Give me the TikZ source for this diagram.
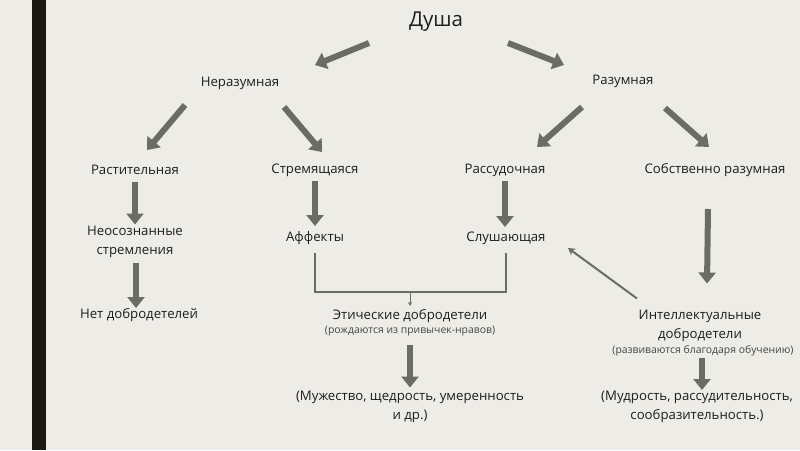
\documentclass[tikz,border=0pt]{standalone}
\usepackage{fontspec}
\setmainfont{Open Sans}
\usetikzlibrary{arrows.meta,calc}
\definecolor{bgc}{RGB}{238,236,230}
\definecolor{barc}{RGB}{26,26,18}
\definecolor{arrc}{RGB}{108,108,103}
\definecolor{txtc}{RGB}{30,30,28}
\definecolor{notec}{RGB}{70,70,66}
\tikzset{
  lbl/.style={inner sep=0pt, text=txtc, font=\fontsize{13.2}{19}\selectfont, align=center},
  note/.style={inner sep=0pt, text=notec, font=\fontsize{10.4}{12}\selectfont, align=center},
  bigarrow/.style={draw=arrc, line width=6pt, -{Triangle[width=17pt,length=11pt]}},
  thinline/.style={draw=arrc, line width=2pt},
  thinarrow/.style={draw=arrc, line width=2pt, -{Stealth[width=8pt,length=7pt]}},
  tinyarrow/.style={draw=arrc, line width=1pt, -{Stealth[width=4pt,length=4pt]}}
}
\begin{document}
\begin{tikzpicture}[x=1pt,y=-1pt]
\useasboundingbox (0,0) rectangle (800,450);
\fill[bgc] (0,0) rectangle (800,450);
\fill[barc] (32,0) rectangle (46,450);

\node[lbl, font=\fontsize{20.5}{24}\selectfont] (dusha) at (436,22) {Душа};
\node[lbl] (neraz) at (240,83) {Неразумная};
\node[lbl] (raz) at (623,81) {Разумная};
\node[lbl] (rast) at (135,170) {Растительная};
\node[lbl] (strem) at (315,170) {Стремящаяся};
\node[lbl] (rass) at (505,170) {Рассудочная};
\node[lbl] (sobst) at (715,170) {Собственно разумная};
\node[lbl] (neos) at (135,241.5) {Неосознанные\\стремления};
\node[lbl] (aff) at (315,238) {Аффекты};
\node[lbl] (slush) at (506,238) {Слушающая};
\node[lbl] (net) at (139,315) {Нет добродетелей};
\node[lbl] (eth) at (410,316) {Этические добродетели};
\node[note] (ethnote) at (410,331) {(рождаются из привычек-нравов)};
\node[lbl] (muzh) at (410,406.5) {(Мужество, щедрость, умеренность\\и др.)};
\node[lbl] (intel) at (700,325.5) {Интеллектуальные\\добродетели};
\node[note] (intelnote) at (703,351) {(развиваются благодаря обучению)};
\node[lbl] (mudr) at (697,407) {(Мудрость, рассудительность,\\сообразительность.)};

% diagonal arrows
\draw[bigarrow] ($(dusha)+(-67,21)$) -- ($(neraz)+(75,-18)$);
\draw[bigarrow] ($(dusha)+(72,21)$) -- ($(raz)+(-59,-16)$);
\draw[bigarrow] ($(neraz)+(-55,22)$) -- ($(rast)+(12,-20)$);
\draw[bigarrow] ($(neraz)+(44,24)$) -- ($(strem)+(7,-18)$);
\draw[bigarrow] ($(raz)+(-41,26)$) -- ($(rass)+(32,-23)$);
\draw[bigarrow] ($(raz)+(42,27)$) -- ($(sobst)+(-6,-23)$);

% vertical arrows
\draw[bigarrow] ($(rast)+(0,12)$) -- ($(neos)+(0,-17)$);
\draw[bigarrow] ($(strem)+(0,11)$) -- ($(aff)+(0,-12)$);
\draw[bigarrow] ($(rass)+(0,11)$) -- ($(slush)+(-1,-11)$);
\draw[bigarrow] ($(neos)+(1,21)$) -- ($(net)+(-3,-7)$);
\draw[bigarrow] ($(sobst)+(-7,39)$) -- ($(intel)+(7,-42)$);
\draw[bigarrow] ($(ethnote)+(0,14)$) -- ($(muzh)+(0,-19)$);
\draw[bigarrow] ($(intelnote)+(-1,7)$) -- ($(mudr)+(5,-17)$);

% bracket
\draw[thinline] ($(aff)+(0,15)$) |- ($(slush)+(0,54)$) -- ($(slush)+(0,15)$);
\draw[tinyarrow] ($(eth)+(0,-24)$) -- ($(eth)+(0,-10)$);

% thin arrow
\draw[thinarrow] ($(intel)+(-63,-27)$) -- ($(slush)+(62,10)$);
\end{tikzpicture}
\end{document}
